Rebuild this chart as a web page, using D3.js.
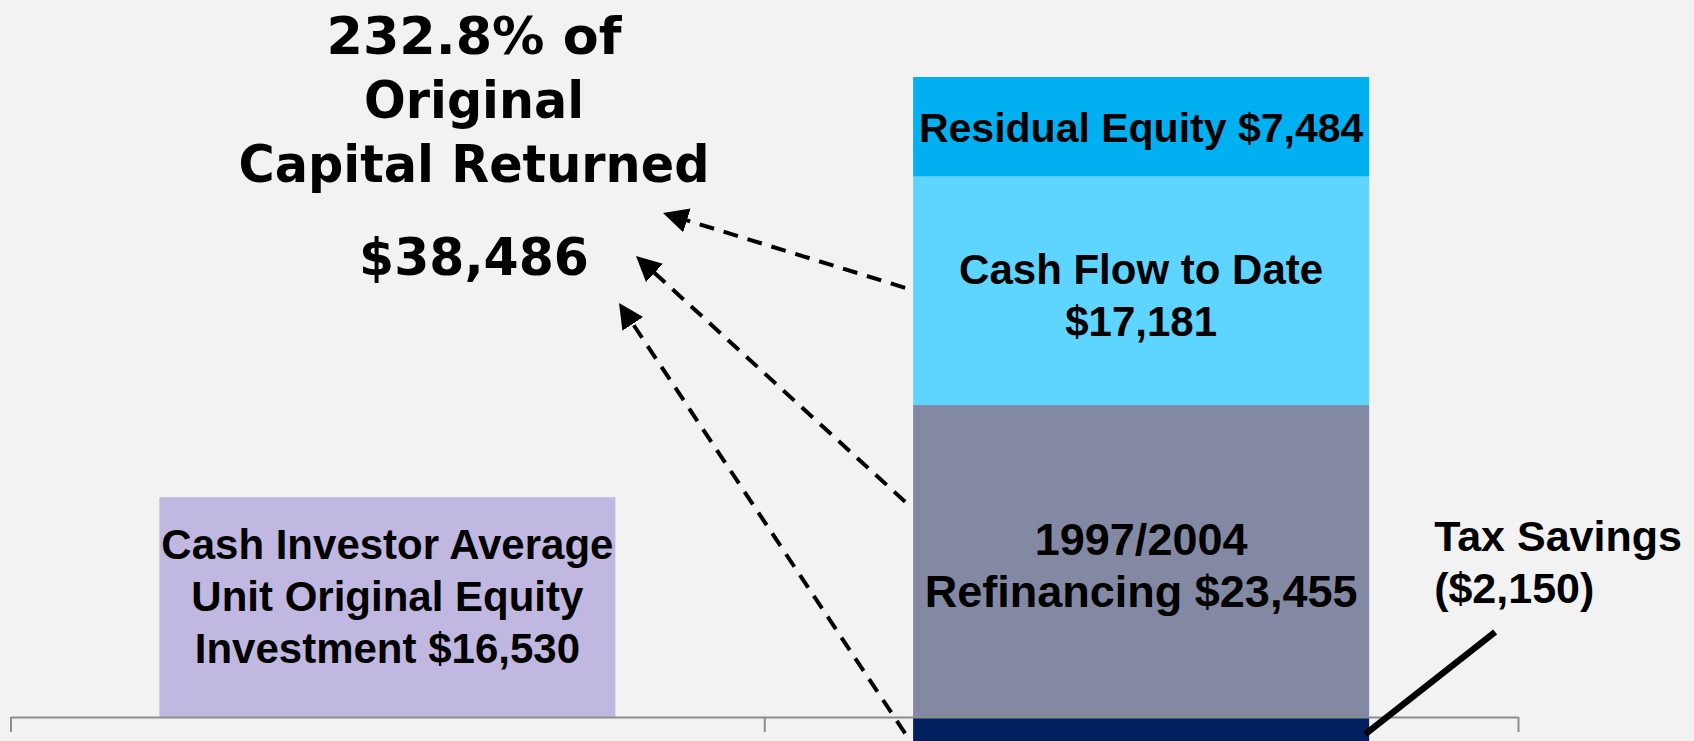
<!DOCTYPE html>
<html>
<head>
<meta charset="utf-8">
<script src="https://cdn.jsdelivr.net/npm/d3@7"></script>
<style>
  html, body { margin: 0; padding: 0; background: #f2f2f2; }
  svg { display: block; }
</style>
</head>
<body>
<div id="chart"></div>
<script>
// data
const categories = ["Original Equity", "Capital Returned"];
const investmentValue = 16530;
const investmentLabel = ["Cash Investor Average", "Unit Original Equity", "Investment $16,530"];
const returnNames = ["Tax Savings", "1997/2004 Refinancing", "Cash Flow to Date", "Residual Equity"];
const returnValues = [-2150, 23455, 17181, 7484];
const returnLabels = [["Tax Savings", "($2,150)"], ["1997/2004", "Refinancing $23,455"], ["Cash Flow to Date", "$17,181"], ["Residual Equity $7,484"]];
const titleLines = ["232.8% of", "Original", "Capital Returned"];
const totalLabel = "$38,486";

// styles
const returnColors = ["#002060", "#8489a3", "#5dd5ff", "#00b0f0"];
const returnFontSizes = [43, 45, 42, 41];
const investmentColor = "#c0b8e0";

const width = 1694, height = 741;
const svg = d3.select("#chart").append("svg")
    .attr("width", width)
    .attr("height", height)
    .style("background", "#f2f2f2");

// stack the returned segments (negatives go below zero)
let posTop = 0, negTop = 0;
const segs = returnValues.map(function(v, i) {
    let y0, y1;
    if (v >= 0) { y0 = posTop; y1 = posTop + v; posTop = y1; }
    else { y0 = negTop + v; y1 = negTop; negTop = y0; }
    return { name: returnNames[i], value: v, y0: y0, y1: y1, color: returnColors[i], lines: returnLabels[i], size: returnFontSizes[i] };
});

// scales
const x = d3.scaleBand()
    .domain(categories)
    .range([10.5, 1518]);
const y = d3.scaleLinear()
    .domain([0, posTop])
    .range([717, 77]);

const barW = x.bandwidth() * 0.605;
const barX = function(c) { return x(c) + (x.bandwidth() - barW) / 2; };

// original investment bar
svg.append("rect")
    .attr("x", barX(categories[0]))
    .attr("width", barW)
    .attr("y", y(investmentValue))
    .attr("height", y(0) - y(investmentValue))
    .attr("fill", investmentColor);

// returned stack
svg.selectAll(".seg")
    .data(segs)
    .enter().append("rect")
    .attr("class", "seg")
    .attr("x", barX(categories[1]))
    .attr("width", barW)
    .attr("y", function(d) { return y(d.y1); })
    .attr("height", function(d) { return y(d.y0) - y(d.y1); })
    .attr("fill", function(d) { return d.color; });

// category axis, ticks at band boundaries
const xb = d3.scaleLinear().domain(x.range()).range(x.range());
const bounds = [x.range()[0]].concat(categories.map(function(c) { return x(c) + x.step(); }));
const axis = svg.append("g")
    .attr("transform", "translate(0," + y(0) + ")")
    .call(d3.axisBottom(xb).tickValues(bounds).tickSize(15).tickSizeOuter(0).tickFormat(""));
axis.selectAll("path, line").attr("stroke", "#8c8c8c").attr("stroke-width", 2);

// labels
const labelFont = "'Liberation Sans', Arial, sans-serif";
const lineH = 52;

function blockLabel(lines, cx, midY, nudge, size) {
    const first = midY - (lines.length - 1) * lineH / 2 + 15 + nudge;
    const t = svg.append("text")
        .attr("text-anchor", "middle")
        .style("font-family", labelFont)
        .style("font-weight", "bold")
        .style("font-size", size + "px")
        .attr("fill", "#000");
    lines.forEach(function(l, i) {
        t.append("tspan").attr("x", cx).attr("y", first + i * lineH).text(l);
    });
}

const leftCx = x(categories[0]) + x.bandwidth() / 2;
const rightCx = x(categories[1]) + x.bandwidth() / 2;
blockLabel(investmentLabel, leftCx, (y(0) + y(investmentValue)) / 2, -11, 42);
const nudges = [0, 5, 4, 0];
segs.forEach(function(d, i) {
    if (d.value < 0) return;
    blockLabel(d.lines, rightCx, (y(d.y0) + y(d.y1)) / 2, nudges[i], d.size);
});

// tax savings callout
const tax = segs[0];
const barRight = barX(categories[1]) + barW;
const taxText = svg.append("text")
    .style("font-family", labelFont)
    .style("font-weight", "bold")
    .style("font-size", tax.size + "px")
    .attr("fill", "#000");
tax.lines.forEach(function(l, i) {
    taxText.append("tspan").attr("x", barRight + 65).attr("y", 551 + i * lineH).text(l);
});
svg.append("line")
    .attr("x1", barRight + 126).attr("y1", 632)
    .attr("x2", barRight - 4).attr("y2", (y(tax.y0) + y(tax.y1)) / 2 + 3)
    .attr("stroke", "#000")
    .attr("stroke-width", 6.5);

// headline text
const titleFont = "'DejaVu Sans', Verdana, sans-serif";
const titleCx = 474;
const titleLens = [295, 220, 471];
titleLines.forEach(function(l, i) {
    svg.append("text")
        .attr("x", titleCx)
        .attr("y", 54 + i * 64)
        .attr("text-anchor", "middle")
        .attr("textLength", titleLens[i])
        .attr("lengthAdjust", "spacingAndGlyphs")
        .style("font-family", titleFont)
        .style("font-weight", "bold")
        .style("font-size", "52px")
        .text(l);
});
svg.append("text")
    .attr("x", titleCx)
    .attr("y", 275)
    .attr("text-anchor", "middle")
    .attr("textLength", 230)
    .attr("lengthAdjust", "spacingAndGlyphs")
    .style("font-family", titleFont)
    .style("font-weight", "bold")
    .style("font-size", "52px")
    .text(totalLabel);

// dashed arrows from the return pieces to the total
svg.append("defs").append("marker")
    .attr("id", "head")
    .attr("viewBox", "0 -13 25 26")
    .attr("refX", 12).attr("refY", 0)
    .attr("markerWidth", 25).attr("markerHeight", 26)
    .attr("markerUnits", "userSpaceOnUse")
    .attr("orient", "auto")
    .append("path")
    .attr("d", "M0,-12.5L25,0L0,12.5Z")
    .attr("fill", "#000");

const startX = barX(categories[1]) - 8;
const arrows = [
    { y: (y(segs[2].y0) + y(segs[2].y1)) / 2 - 3, tip: [663, 213] },
    { y: y(segs[1].y0 + segs[1].value * 0.69), tip: [636, 256] },
    { y: (y(segs[0].y0) + y(segs[0].y1)) / 2 + 2, tip: [619, 303] }
];
arrows.forEach(function(a) {
    const dx = a.tip[0] - startX, dy = a.tip[1] - a.y;
    const len = Math.sqrt(dx * dx + dy * dy);
    svg.append("line")
        .attr("x1", startX).attr("y1", a.y)
        .attr("x2", a.tip[0] - 13 * dx / len)
        .attr("y2", a.tip[1] - 13 * dy / len)
        .attr("stroke", "#000")
        .attr("stroke-width", 4)
        .attr("stroke-dasharray", "15,10")
        .attr("marker-end", "url(#head)");
});
</script>
</body>
</html>
